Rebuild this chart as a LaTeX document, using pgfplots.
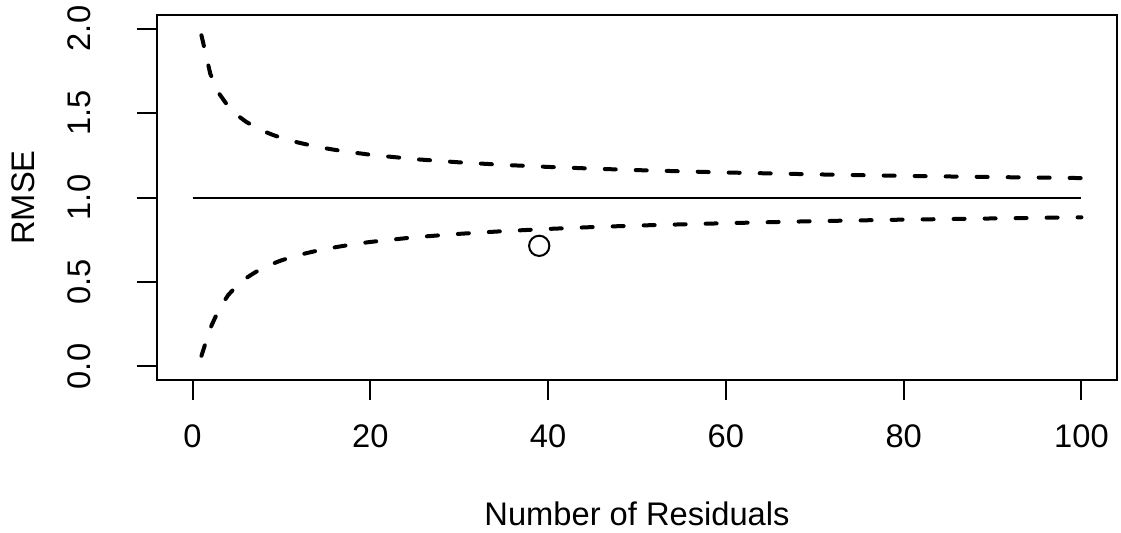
\documentclass[border=0pt]{standalone}
\usepackage{fontspec}
\setmainfont{Liberation Sans}
\usepackage{pgfplots}
\pgfplotsset{compat=1.18}
\newcommand{\rfont}{\fontsize{24.5pt}{29pt}\selectfont}
\begin{document}
\begin{tikzpicture}
\begin{axis}[
  at={(0,0)}, anchor=south west,
  scale only axis,
  width=720pt, height=273.75pt,
  xmin=-4, xmax=104, ymin=-0.08, ymax=2.08,
  axis line style={line width=1.5pt},
  xtick={0,20,40,60,80,100},
  xticklabels={0,20,40,60,80,100},
  ytick={0,0.5,1,1.5,2},
  yticklabels={0.0,0.5,1.0,1.5,2.0},
  xtick pos=bottom, ytick pos=left,
  tick align=outside,
  major tick length=15pt,
  every tick/.style={line width=1.5pt, black},
  xticklabel style={font=\rfont, anchor=center, inner sep=0pt},
  yticklabel style={font=\rfont, rotate=90, anchor=center, inner sep=0pt},
  xticklabel shift=27pt,
  yticklabel shift=43.5pt,
  xlabel={Number of Residuals},
  ylabel={RMSE},
  xlabel style={font=\rfont, at={(axis description cs:0.5,-0.367123)}, anchor=center, inner sep=0pt},
  ylabel style={font=\rfont, at={(axis description cs:-0.139583,0.5)}, anchor=center, inner sep=0pt},
  clip=true,
]
\addplot[black, line width=1.5pt] coordinates {(0,1) (100,1)};
\addplot[black, line width=3pt, line cap=round, dash pattern=on 8.25pt off 15pt] coordinates {
(1,1.960) (2,1.731) (3,1.614) (4,1.540) (5,1.488) (6,1.449) (7,1.418) (8,1.392) (9,1.371) (10,1.353)
(11,1.337) (12,1.324) (13,1.312) (14,1.301) (15,1.291) (16,1.282) (17,1.274) (18,1.266) (19,1.260) (20,1.253)
(25,1.227) (30,1.208) (35,1.193) (40,1.181) (45,1.171) (50,1.162) (60,1.148) (70,1.137) (80,1.128) (90,1.121) (100,1.115)
};
\addplot[black, line width=3pt, line cap=round, dash pattern=on 8.25pt off 15pt] coordinates {
(1,0.063) (2,0.227) (3,0.342) (4,0.422) (5,0.479) (6,0.522) (7,0.556) (8,0.584) (9,0.608) (10,0.628)
(11,0.645) (12,0.660) (13,0.673) (14,0.685) (15,0.696) (16,0.705) (17,0.714) (18,0.722) (19,0.730) (20,0.737)
(25,0.765) (30,0.785) (35,0.801) (40,0.814) (45,0.825) (50,0.834) (60,0.848) (70,0.860) (80,0.869) (90,0.876) (100,0.883)
};
\addplot[only marks, mark=o, mark size=7.6pt, mark options={line width=1.5pt, black}] coordinates {(39,0.714)};
\end{axis}
\pgfresetboundingbox
\path[use as bounding box] (-117.75pt,-114pt) rectangle (723pt,285pt);
\end{tikzpicture}
\end{document}
